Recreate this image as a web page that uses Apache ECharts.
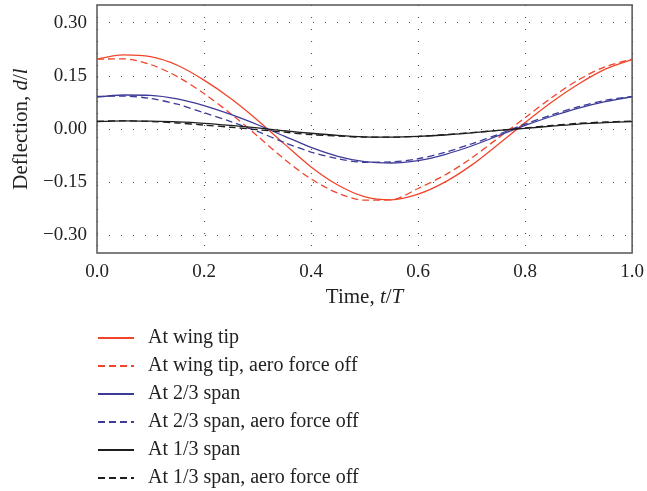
<!DOCTYPE html>
<html>
<head>
<meta charset="utf-8">
<script src="https://cdn.jsdelivr.net/npm/echarts@6/dist/echarts.min.js"></script>
<style>
  html, body { margin: 0; padding: 0; background: #fff; }
  #chart { width: 647px; height: 491px; }
</style>
</head>
<body>
<div id="chart"></div>
<script>
const time = [0.00, 0.05, 0.10, 0.15, 0.20, 0.25, 0.30, 0.35, 0.40, 0.45, 0.50,
              0.55, 0.60, 0.65, 0.70, 0.75, 0.80, 0.85, 0.90, 0.95, 1.00];

const wingTip = [0.197, 0.209, 0.204, 0.180, 0.138, 0.086, 0.025, -0.042, -0.107, -0.158, -0.191,
                 -0.200, -0.184, -0.150, -0.102, -0.043, 0.018, 0.076, 0.127, 0.169, 0.196];
const wingTipOff = [0.197, 0.198, 0.182, 0.148, 0.100, 0.043, -0.020, -0.085, -0.141, -0.181, -0.201,
                    -0.200, -0.168, -0.130, -0.082, -0.025, 0.032, 0.089, 0.139, 0.176, 0.197];
const span23 = [0.090, 0.096, 0.095, 0.085, 0.066, 0.041, 0.012, -0.020, -0.052, -0.077, -0.092,
                -0.096, -0.089, -0.072, -0.048, -0.019, 0.010, 0.036, 0.059, 0.077, 0.091];
const span23Off = [0.092, 0.093, 0.086, 0.070, 0.046, 0.021, -0.007, -0.038, -0.065, -0.084, -0.094,
                   -0.093, -0.084, -0.066, -0.042, -0.015, 0.014, 0.040, 0.063, 0.081, 0.092];
const span13 = [0.021, 0.023, 0.022, 0.020, 0.016, 0.010, 0.003, -0.005, -0.012, -0.018, -0.022,
                -0.023, -0.021, -0.017, -0.011, -0.004, 0.002, 0.008, 0.014, 0.018, 0.021];
const span13Off = [0.022, 0.023, 0.021, 0.017, 0.011, 0.005, -0.002, -0.009, -0.016, -0.020, -0.023,
                   -0.023, -0.021, -0.016, -0.010, -0.004, 0.003, 0.010, 0.016, 0.020, 0.022];

const yTicks = [-0.30, -0.15, 0.00, 0.15, 0.30];
const names = [
  "At wing tip",
  "At wing tip, aero force off",
  "At 2/3 span",
  "At 2/3 span, aero force off",
  "At 1/3 span",
  "At 1/3 span, aero force off",
];

const RED = "#f0452b";
const BLUE = "#3d3b98";
const BLACK = "#1e1e1e";
const FONT = "Liberation Serif";
const DASH = [7, 4];

function pairs(values) {
  return values.map((v, i) => [time[i], v]);
}

function line(name, values, color, dashed) {
  return {
    name,
    type: "line",
    data: pairs(values),
    smooth: 0.3,
    symbol: "none",
    lineStyle: { color, width: 1.3, type: dashed ? DASH : "solid" },
    itemStyle: { color },
  };
}

function fmtY(v) {
  const s = Math.abs(v).toFixed(2);
  return v < -1e-9 ? "\u2212" + s : s;
}

const gridLine = { show: true, lineStyle: { color: "#555", width: 1.2, type: [1, 11] } };
const nameRich = {
  n: { fontFamily: FONT, fontSize: 21, color: "#222" },
  i: { fontFamily: FONT, fontSize: 21, color: "#222", fontStyle: "italic" },
};

const chart = echarts.init(document.getElementById("chart"), null, { renderer: "canvas" });
chart.setOption({
  animation: false,
  textStyle: { fontFamily: FONT },
  grid: {
    left: 97, right: 12, top: 5, bottom: 238,
    show: true, borderColor: "#555", borderWidth: 1.5,
  },
  legend: {
    orient: "vertical",
    left: 97,
    top: 328,
    padding: 0,
    itemWidth: 36,
    itemHeight: 10,
    itemGap: 8,
    itemStyle: { opacity: 0 },
    textStyle: { fontFamily: FONT, fontSize: 20, color: "#222", padding: [0, 0, 0, 9] },
    data: names,
  },
  xAxis: {
    type: "value",
    min: 0,
    max: 1,
    interval: 0.2,
    name: "{n|Time, }{i|t}{n|/}{i|T}",
    nameLocation: "middle",
    nameGap: 33,
    nameTextStyle: { rich: nameRich },
    axisLine: { show: false },
    axisTick: { show: false },
    axisLabel: { fontFamily: FONT, fontSize: 19, color: "#222", margin: 10, formatter: (v) => v.toFixed(1) },
    splitLine: gridLine,
  },
  yAxis: {
    type: "value",
    min: -0.35,
    max: 0.35,
    name: "{n|Deflection, }{i|d}{n|/}{i|l}",
    nameLocation: "middle",
    nameGap: 58,
    nameTextStyle: { rich: nameRich },
    axisLine: { show: false },
    axisTick: { show: false, customValues: yTicks },
    axisLabel: { fontFamily: FONT, fontSize: 19, color: "#222", margin: 10, customValues: yTicks, formatter: fmtY },
    splitLine: gridLine,
  },
  series: [
    line(names[0], wingTip, RED, false),
    line(names[1], wingTipOff, RED, true),
    line(names[2], span23, BLUE, false),
    line(names[3], span23Off, BLUE, true),
    line(names[4], span13, BLACK, false),
    line(names[5], span13Off, BLACK, true),
  ],
});
</script>
</body>
</html>
